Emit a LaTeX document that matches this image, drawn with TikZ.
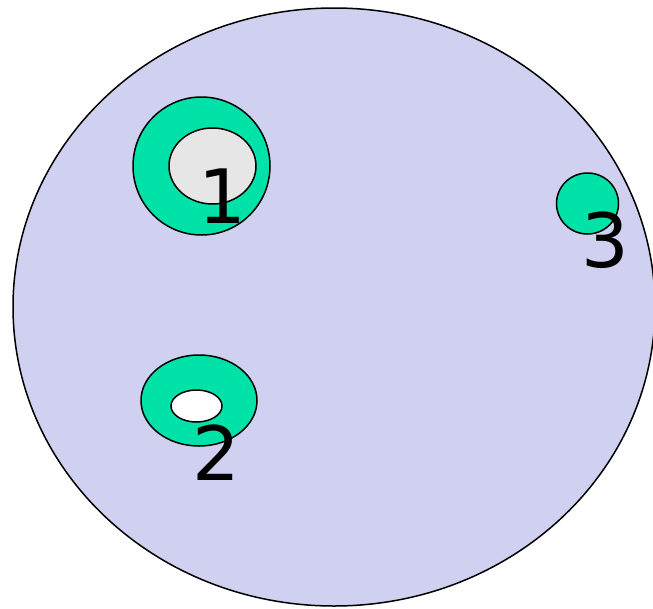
\documentclass[tikz,border=0pt]{standalone}
\usepackage{fontspec}
\setmainfont{DejaVu Sans}
\usepackage{xcolor}
\definecolor{cLavender}{RGB}{208,208,240}
\definecolor{cMint}{RGB}{0,226,168}
\definecolor{cLight}{RGB}{230,230,230}
\usepackage{tikz}
\usetikzlibrary{positioning}

\begin{document}
\begin{tikzpicture}[x=1pt, y=-1pt, line width=1.5pt,
    blob/.style={draw=black, fill=cMint},
    hole/.style={draw=black},
    digit/.style={font=\fontsize{75}{75}\selectfont, anchor=base, inner sep=0pt}]
    \useasboundingbox (0,0) rectangle (653,608);

    % ---------- outer region ----------
    \begin{scope}
      \clip (0,0) rectangle (653,608);
      \draw[fill=cLavender] (334,307) ellipse [x radius=321, y radius=299];
    \end{scope}

    % ---------- component 1 ----------
    \draw[blob] (201.5,166) ellipse [x radius=68.5, y radius=69];
    \draw[hole, fill=cLight] (212.5,166) ellipse [x radius=43.5, y radius=38];
    \node[digit] (lab1) at (222,223) {1};

    % ---------- component 2 ----------
    \draw[blob] (199,400.5) ellipse [x radius=58, y radius=45.5];
    \draw[hole, fill=white] (196.5,406) ellipse [x radius=25.5, y radius=16];
    \node[digit] (lab2) at (216,480) {2};

    % ---------- component 3 ----------
    \draw[blob] (587.5,203.5) ellipse [x radius=31, y radius=30.5];
    \node[digit] (lab3) at (605,267) {3};

\end{tikzpicture}
\end{document}
